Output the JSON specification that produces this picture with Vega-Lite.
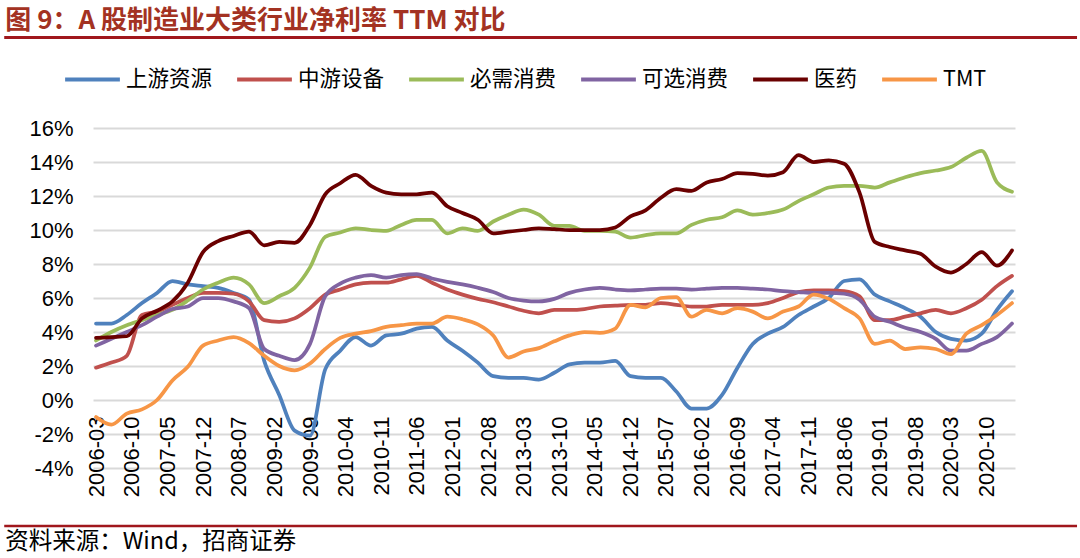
{
"$schema": "https://vega.github.io/schema/vega-lite/v6.json",
"width": 922, "height": 340,
"autosize": {"type": "none"},
"padding": {"left": 93, "top": 128, "right": 65, "bottom": 90},
"background": "white",
"config": {"view": {"stroke": null}, "font": "Liberation Sans"},
"resolve": {"axis": {"x": "independent", "y": "independent"}},
"data": {"values": [
{"d":"2006-03-01","s":"上游资源","v":4.5},{"d":"2006-06-01","s":"上游资源","v":4.5},{"d":"2006-09-01","s":"上游资源","v":5.0},{"d":"2006-12-01","s":"上游资源","v":5.7},
{"d":"2007-03-01","s":"上游资源","v":6.3},{"d":"2007-06-01","s":"上游资源","v":7.0},{"d":"2007-09-01","s":"上游资源","v":6.8},{"d":"2007-12-01","s":"上游资源","v":6.7},
{"d":"2008-03-01","s":"上游资源","v":6.6},{"d":"2008-06-01","s":"上游资源","v":6.3},{"d":"2008-09-01","s":"上游资源","v":5.9},{"d":"2008-12-01","s":"上游资源","v":2.3},
{"d":"2009-03-01","s":"上游资源","v":0.3},{"d":"2009-06-01","s":"上游资源","v":-1.8},{"d":"2009-09-01","s":"上游资源","v":-2.1},{"d":"2009-12-01","s":"上游资源","v":1.8},
{"d":"2010-03-01","s":"上游资源","v":2.9},{"d":"2010-06-01","s":"上游资源","v":3.7},{"d":"2010-09-01","s":"上游资源","v":3.2},{"d":"2010-12-01","s":"上游资源","v":3.8},
{"d":"2011-03-01","s":"上游资源","v":3.9},{"d":"2011-06-01","s":"上游资源","v":4.2},{"d":"2011-09-01","s":"上游资源","v":4.3},{"d":"2011-12-01","s":"上游资源","v":3.5},
{"d":"2012-03-01","s":"上游资源","v":2.9},{"d":"2012-06-01","s":"上游资源","v":2.2},{"d":"2012-09-01","s":"上游资源","v":1.4},{"d":"2012-12-01","s":"上游资源","v":1.3},
{"d":"2013-03-01","s":"上游资源","v":1.3},{"d":"2013-06-01","s":"上游资源","v":1.2},{"d":"2013-09-01","s":"上游资源","v":1.6},{"d":"2013-12-01","s":"上游资源","v":2.1},
{"d":"2014-03-01","s":"上游资源","v":2.2},{"d":"2014-06-01","s":"上游资源","v":2.2},{"d":"2014-09-01","s":"上游资源","v":2.3},{"d":"2014-12-01","s":"上游资源","v":1.4},
{"d":"2015-03-01","s":"上游资源","v":1.3},{"d":"2015-06-01","s":"上游资源","v":1.3},{"d":"2015-09-01","s":"上游资源","v":0.5},{"d":"2015-12-01","s":"上游资源","v":-0.5},
{"d":"2016-03-01","s":"上游资源","v":-0.5},{"d":"2016-06-01","s":"上游资源","v":0.3},{"d":"2016-09-01","s":"上游资源","v":1.9},{"d":"2016-12-01","s":"上游资源","v":3.3},
{"d":"2017-03-01","s":"上游资源","v":3.9},{"d":"2017-06-01","s":"上游资源","v":4.3},{"d":"2017-09-01","s":"上游资源","v":5.0},{"d":"2017-12-01","s":"上游资源","v":5.5},
{"d":"2018-03-01","s":"上游资源","v":6.0},{"d":"2018-06-01","s":"上游资源","v":7.0},{"d":"2018-09-01","s":"上游资源","v":7.1},{"d":"2018-12-01","s":"上游资源","v":6.2},
{"d":"2019-03-01","s":"上游资源","v":5.8},{"d":"2019-06-01","s":"上游资源","v":5.4},{"d":"2019-09-01","s":"上游资源","v":4.9},{"d":"2019-12-01","s":"上游资源","v":4.0},
{"d":"2020-03-01","s":"上游资源","v":3.6},{"d":"2020-06-01","s":"上游资源","v":3.5},{"d":"2020-09-01","s":"上游资源","v":3.9},{"d":"2020-12-01","s":"上游资源","v":5.3},
{"d":"2021-03-01","s":"上游资源","v":6.4},

{"d":"2006-03-01","s":"中游设备","v":1.9},{"d":"2006-06-01","s":"中游设备","v":2.2},{"d":"2006-09-01","s":"中游设备","v":2.6},{"d":"2006-12-01","s":"中游设备","v":5.0},
{"d":"2007-03-01","s":"中游设备","v":5.2},{"d":"2007-06-01","s":"中游设备","v":5.6},{"d":"2007-09-01","s":"中游设备","v":6.0},{"d":"2007-12-01","s":"中游设备","v":6.3},
{"d":"2008-03-01","s":"中游设备","v":6.3},{"d":"2008-06-01","s":"中游设备","v":6.25},{"d":"2008-09-01","s":"中游设备","v":5.8},{"d":"2008-12-01","s":"中游设备","v":4.7},
{"d":"2009-03-01","s":"中游设备","v":4.6},{"d":"2009-06-01","s":"中游设备","v":4.8},{"d":"2009-09-01","s":"中游设备","v":5.4},{"d":"2009-12-01","s":"中游设备","v":6.2},
{"d":"2010-03-01","s":"中游设备","v":6.5},{"d":"2010-06-01","s":"中游设备","v":6.8},{"d":"2010-09-01","s":"中游设备","v":6.9},{"d":"2010-12-01","s":"中游设备","v":6.9},
{"d":"2011-03-01","s":"中游设备","v":7.1},{"d":"2011-06-01","s":"中游设备","v":7.3},{"d":"2011-09-01","s":"中游设备","v":6.9},{"d":"2011-12-01","s":"中游设备","v":6.5},
{"d":"2012-03-01","s":"中游设备","v":6.2},{"d":"2012-06-01","s":"中游设备","v":5.95},{"d":"2012-09-01","s":"中游设备","v":5.75},{"d":"2012-12-01","s":"中游设备","v":5.5},
{"d":"2013-03-01","s":"中游设备","v":5.25},{"d":"2013-06-01","s":"中游设备","v":5.1},{"d":"2013-09-01","s":"中游设备","v":5.3},{"d":"2013-12-01","s":"中游设备","v":5.3},
{"d":"2014-03-01","s":"中游设备","v":5.35},{"d":"2014-06-01","s":"中游设备","v":5.5},{"d":"2014-09-01","s":"中游设备","v":5.55},{"d":"2014-12-01","s":"中游设备","v":5.6},
{"d":"2015-03-01","s":"中游设备","v":5.6},{"d":"2015-06-01","s":"中游设备","v":5.7},{"d":"2015-09-01","s":"中游设备","v":5.6},{"d":"2015-12-01","s":"中游设备","v":5.5},
{"d":"2016-03-01","s":"中游设备","v":5.5},{"d":"2016-06-01","s":"中游设备","v":5.6},{"d":"2016-09-01","s":"中游设备","v":5.6},{"d":"2016-12-01","s":"中游设备","v":5.6},
{"d":"2017-03-01","s":"中游设备","v":5.7},{"d":"2017-06-01","s":"中游设备","v":6.0},{"d":"2017-09-01","s":"中游设备","v":6.35},{"d":"2017-12-01","s":"中游设备","v":6.45},
{"d":"2018-03-01","s":"中游设备","v":6.45},{"d":"2018-06-01","s":"中游设备","v":6.4},{"d":"2018-09-01","s":"中游设备","v":6.1},{"d":"2018-12-01","s":"中游设备","v":4.7},
{"d":"2019-03-01","s":"中游设备","v":4.7},{"d":"2019-06-01","s":"中游设备","v":4.9},{"d":"2019-09-01","s":"中游设备","v":5.1},{"d":"2019-12-01","s":"中游设备","v":5.3},
{"d":"2020-03-01","s":"中游设备","v":5.1},{"d":"2020-06-01","s":"中游设备","v":5.4},{"d":"2020-09-01","s":"中游设备","v":5.9},{"d":"2020-12-01","s":"中游设备","v":6.7},
{"d":"2021-03-01","s":"中游设备","v":7.3},

{"d":"2006-03-01","s":"必需消费","v":3.5},{"d":"2006-06-01","s":"必需消费","v":4.0},{"d":"2006-09-01","s":"必需消费","v":4.4},{"d":"2006-12-01","s":"必需消费","v":4.7},
{"d":"2007-03-01","s":"必需消费","v":5.0},{"d":"2007-06-01","s":"必需消费","v":5.3},{"d":"2007-09-01","s":"必需消费","v":5.85},{"d":"2007-12-01","s":"必需消费","v":6.5},
{"d":"2008-03-01","s":"必需消费","v":6.9},{"d":"2008-06-01","s":"必需消费","v":7.2},{"d":"2008-09-01","s":"必需消费","v":6.8},{"d":"2008-12-01","s":"必需消费","v":5.7},
{"d":"2009-03-01","s":"必需消费","v":6.1},{"d":"2009-06-01","s":"必需消费","v":6.6},{"d":"2009-09-01","s":"必需消费","v":7.8},{"d":"2009-12-01","s":"必需消费","v":9.6},
{"d":"2010-03-01","s":"必需消费","v":9.85},{"d":"2010-06-01","s":"必需消费","v":10.1},{"d":"2010-09-01","s":"必需消费","v":10.0},{"d":"2010-12-01","s":"必需消费","v":9.95},
{"d":"2011-03-01","s":"必需消费","v":10.3},{"d":"2011-06-01","s":"必需消费","v":10.6},{"d":"2011-09-01","s":"必需消费","v":10.6},{"d":"2011-12-01","s":"必需消费","v":9.8},
{"d":"2012-03-01","s":"必需消费","v":10.1},{"d":"2012-06-01","s":"必需消费","v":9.95},{"d":"2012-09-01","s":"必需消费","v":10.5},{"d":"2012-12-01","s":"必需消费","v":10.9},
{"d":"2013-03-01","s":"必需消费","v":11.2},{"d":"2013-06-01","s":"必需消费","v":10.9},{"d":"2013-09-01","s":"必需消费","v":10.25},{"d":"2013-12-01","s":"必需消费","v":10.25},
{"d":"2014-03-01","s":"必需消费","v":9.95},{"d":"2014-06-01","s":"必需消费","v":9.95},{"d":"2014-09-01","s":"必需消费","v":9.9},{"d":"2014-12-01","s":"必需消费","v":9.55},
{"d":"2015-03-01","s":"必需消费","v":9.7},{"d":"2015-06-01","s":"必需消费","v":9.8},{"d":"2015-09-01","s":"必需消费","v":9.8},{"d":"2015-12-01","s":"必需消费","v":10.3},
{"d":"2016-03-01","s":"必需消费","v":10.6},{"d":"2016-06-01","s":"必需消费","v":10.75},{"d":"2016-09-01","s":"必需消费","v":11.15},{"d":"2016-12-01","s":"必需消费","v":10.9},
{"d":"2017-03-01","s":"必需消费","v":11.0},{"d":"2017-06-01","s":"必需消费","v":11.2},{"d":"2017-09-01","s":"必需消费","v":11.7},{"d":"2017-12-01","s":"必需消费","v":12.1},
{"d":"2018-03-01","s":"必需消费","v":12.5},{"d":"2018-06-01","s":"必需消费","v":12.6},{"d":"2018-09-01","s":"必需消费","v":12.6},{"d":"2018-12-01","s":"必需消费","v":12.5},
{"d":"2019-03-01","s":"必需消费","v":12.8},{"d":"2019-06-01","s":"必需消费","v":13.1},{"d":"2019-09-01","s":"必需消费","v":13.35},{"d":"2019-12-01","s":"必需消费","v":13.5},
{"d":"2020-03-01","s":"必需消费","v":13.7},{"d":"2020-06-01","s":"必需消费","v":14.25},{"d":"2020-09-01","s":"必需消费","v":14.65},{"d":"2020-12-01","s":"必需消费","v":12.8},
{"d":"2021-03-01","s":"必需消费","v":12.25},

{"d":"2006-03-01","s":"可选消费","v":3.2},{"d":"2006-06-01","s":"可选消费","v":3.6},{"d":"2006-09-01","s":"可选消费","v":4.0},{"d":"2006-12-01","s":"可选消费","v":4.4},
{"d":"2007-03-01","s":"可选消费","v":4.9},{"d":"2007-06-01","s":"可选消费","v":5.35},{"d":"2007-09-01","s":"可选消费","v":5.5},{"d":"2007-12-01","s":"可选消费","v":6.0},
{"d":"2008-03-01","s":"可选消费","v":6.0},{"d":"2008-06-01","s":"可选消费","v":5.8},{"d":"2008-09-01","s":"可选消费","v":5.4},{"d":"2008-12-01","s":"可选消费","v":3.0},
{"d":"2009-03-01","s":"可选消费","v":2.6},{"d":"2009-06-01","s":"可选消费","v":2.35},{"d":"2009-09-01","s":"可选消费","v":3.3},{"d":"2009-12-01","s":"可选消费","v":6.1},
{"d":"2010-03-01","s":"可选消费","v":6.85},{"d":"2010-06-01","s":"可选消费","v":7.2},{"d":"2010-09-01","s":"可选消费","v":7.35},{"d":"2010-12-01","s":"可选消费","v":7.2},
{"d":"2011-03-01","s":"可选消费","v":7.35},{"d":"2011-06-01","s":"可选消费","v":7.4},{"d":"2011-09-01","s":"可选消费","v":7.15},{"d":"2011-12-01","s":"可选消费","v":6.95},
{"d":"2012-03-01","s":"可选消费","v":6.8},{"d":"2012-06-01","s":"可选消费","v":6.6},{"d":"2012-09-01","s":"可选消费","v":6.35},{"d":"2012-12-01","s":"可选消费","v":6.0},
{"d":"2013-03-01","s":"可选消费","v":5.85},{"d":"2013-06-01","s":"可选消费","v":5.8},{"d":"2013-09-01","s":"可选消费","v":5.95},{"d":"2013-12-01","s":"可选消费","v":6.3},
{"d":"2014-03-01","s":"可选消费","v":6.5},{"d":"2014-06-01","s":"可选消费","v":6.6},{"d":"2014-09-01","s":"可选消费","v":6.5},{"d":"2014-12-01","s":"可选消费","v":6.45},
{"d":"2015-03-01","s":"可选消费","v":6.5},{"d":"2015-06-01","s":"可选消费","v":6.55},{"d":"2015-09-01","s":"可选消费","v":6.55},{"d":"2015-12-01","s":"可选消费","v":6.5},
{"d":"2016-03-01","s":"可选消费","v":6.55},{"d":"2016-06-01","s":"可选消费","v":6.6},{"d":"2016-09-01","s":"可选消费","v":6.6},{"d":"2016-12-01","s":"可选消费","v":6.55},
{"d":"2017-03-01","s":"可选消费","v":6.5},{"d":"2017-06-01","s":"可选消费","v":6.4},{"d":"2017-09-01","s":"可选消费","v":6.35},{"d":"2017-12-01","s":"可选消费","v":6.3},
{"d":"2018-03-01","s":"可选消费","v":6.3},{"d":"2018-06-01","s":"可选消费","v":6.25},{"d":"2018-09-01","s":"可选消费","v":5.9},{"d":"2018-12-01","s":"可选消费","v":4.9},
{"d":"2019-03-01","s":"可选消费","v":4.6},{"d":"2019-06-01","s":"可选消费","v":4.25},{"d":"2019-09-01","s":"可选消费","v":4.0},{"d":"2019-12-01","s":"可选消费","v":3.6},
{"d":"2020-03-01","s":"可选消费","v":2.9},{"d":"2020-06-01","s":"可选消费","v":2.9},{"d":"2020-09-01","s":"可选消费","v":3.3},{"d":"2020-12-01","s":"可选消费","v":3.7},
{"d":"2021-03-01","s":"可选消费","v":4.5},

{"d":"2006-03-01","s":"医药","v":3.65},{"d":"2006-06-01","s":"医药","v":3.7},{"d":"2006-09-01","s":"医药","v":3.75},{"d":"2006-12-01","s":"医药","v":4.8},
{"d":"2007-03-01","s":"医药","v":5.25},{"d":"2007-06-01","s":"医药","v":5.8},{"d":"2007-09-01","s":"医药","v":6.9},{"d":"2007-12-01","s":"医药","v":8.7},
{"d":"2008-03-01","s":"医药","v":9.35},{"d":"2008-06-01","s":"医药","v":9.65},{"d":"2008-09-01","s":"医药","v":9.9},{"d":"2008-12-01","s":"医药","v":9.1},
{"d":"2009-03-01","s":"医药","v":9.3},{"d":"2009-06-01","s":"医药","v":9.25},{"d":"2009-09-01","s":"医药","v":10.3},{"d":"2009-12-01","s":"医药","v":12.1},
{"d":"2010-03-01","s":"医药","v":12.75},{"d":"2010-06-01","s":"医药","v":13.25},{"d":"2010-09-01","s":"医药","v":12.6},{"d":"2010-12-01","s":"医药","v":12.2},
{"d":"2011-03-01","s":"医药","v":12.1},{"d":"2011-06-01","s":"医药","v":12.1},{"d":"2011-09-01","s":"医药","v":12.2},{"d":"2011-12-01","s":"医药","v":11.4},
{"d":"2012-03-01","s":"医药","v":11.0},{"d":"2012-06-01","s":"医药","v":10.6},{"d":"2012-09-01","s":"医药","v":9.8},{"d":"2012-12-01","s":"医药","v":9.9},
{"d":"2013-03-01","s":"医药","v":10.0},{"d":"2013-06-01","s":"医药","v":10.1},{"d":"2013-09-01","s":"医药","v":10.05},{"d":"2013-12-01","s":"医药","v":10.0},
{"d":"2014-03-01","s":"医药","v":10.0},{"d":"2014-06-01","s":"医药","v":10.0},{"d":"2014-09-01","s":"医药","v":10.15},{"d":"2014-12-01","s":"医药","v":10.8},
{"d":"2015-03-01","s":"医药","v":11.15},{"d":"2015-06-01","s":"医药","v":11.9},{"d":"2015-09-01","s":"医药","v":12.4},{"d":"2015-12-01","s":"医药","v":12.3},
{"d":"2016-03-01","s":"医药","v":12.8},{"d":"2016-06-01","s":"医药","v":13.0},{"d":"2016-09-01","s":"医药","v":13.35},{"d":"2016-12-01","s":"医药","v":13.3},
{"d":"2017-03-01","s":"医药","v":13.2},{"d":"2017-06-01","s":"医药","v":13.4},{"d":"2017-09-01","s":"医药","v":14.4},{"d":"2017-12-01","s":"医药","v":14.0},
{"d":"2018-03-01","s":"医药","v":14.1},{"d":"2018-06-01","s":"医药","v":13.9},{"d":"2018-09-01","s":"医药","v":12.2},{"d":"2018-12-01","s":"医药","v":9.3},
{"d":"2019-03-01","s":"医药","v":9.0},{"d":"2019-06-01","s":"医药","v":8.8},{"d":"2019-09-01","s":"医药","v":8.6},{"d":"2019-12-01","s":"医药","v":7.85},
{"d":"2020-03-01","s":"医药","v":7.5},{"d":"2020-06-01","s":"医药","v":8.0},{"d":"2020-09-01","s":"医药","v":8.7},{"d":"2020-12-01","s":"医药","v":7.9},
{"d":"2021-03-01","s":"医药","v":8.8},

{"d":"2006-03-01","s":"TMT","v":-1.0},{"d":"2006-06-01","s":"TMT","v":-1.45},{"d":"2006-09-01","s":"TMT","v":-0.8},{"d":"2006-12-01","s":"TMT","v":-0.55},
{"d":"2007-03-01","s":"TMT","v":0.0},{"d":"2007-06-01","s":"TMT","v":1.15},{"d":"2007-09-01","s":"TMT","v":1.95},{"d":"2007-12-01","s":"TMT","v":3.2},
{"d":"2008-03-01","s":"TMT","v":3.5},{"d":"2008-06-01","s":"TMT","v":3.7},{"d":"2008-09-01","s":"TMT","v":3.35},{"d":"2008-12-01","s":"TMT","v":2.6},
{"d":"2009-03-01","s":"TMT","v":2.0},{"d":"2009-06-01","s":"TMT","v":1.75},{"d":"2009-09-01","s":"TMT","v":2.15},{"d":"2009-12-01","s":"TMT","v":3.0},
{"d":"2010-03-01","s":"TMT","v":3.65},{"d":"2010-06-01","s":"TMT","v":3.9},{"d":"2010-09-01","s":"TMT","v":4.05},{"d":"2010-12-01","s":"TMT","v":4.3},
{"d":"2011-03-01","s":"TMT","v":4.4},{"d":"2011-06-01","s":"TMT","v":4.5},{"d":"2011-09-01","s":"TMT","v":4.5},{"d":"2011-12-01","s":"TMT","v":4.9},
{"d":"2012-03-01","s":"TMT","v":4.75},{"d":"2012-06-01","s":"TMT","v":4.45},{"d":"2012-09-01","s":"TMT","v":3.8},{"d":"2012-12-01","s":"TMT","v":2.5},
{"d":"2013-03-01","s":"TMT","v":2.85},{"d":"2013-06-01","s":"TMT","v":3.05},{"d":"2013-09-01","s":"TMT","v":3.45},{"d":"2013-12-01","s":"TMT","v":3.8},
{"d":"2014-03-01","s":"TMT","v":4.0},{"d":"2014-06-01","s":"TMT","v":3.95},{"d":"2014-09-01","s":"TMT","v":4.2},{"d":"2014-12-01","s":"TMT","v":5.6},
{"d":"2015-03-01","s":"TMT","v":5.45},{"d":"2015-06-01","s":"TMT","v":6.0},{"d":"2015-09-01","s":"TMT","v":6.05},{"d":"2015-12-01","s":"TMT","v":4.9},
{"d":"2016-03-01","s":"TMT","v":5.3},{"d":"2016-06-01","s":"TMT","v":5.1},{"d":"2016-09-01","s":"TMT","v":5.4},{"d":"2016-12-01","s":"TMT","v":5.2},
{"d":"2017-03-01","s":"TMT","v":4.8},{"d":"2017-06-01","s":"TMT","v":5.2},{"d":"2017-09-01","s":"TMT","v":5.5},{"d":"2017-12-01","s":"TMT","v":6.2},
{"d":"2018-03-01","s":"TMT","v":5.95},{"d":"2018-06-01","s":"TMT","v":5.4},{"d":"2018-09-01","s":"TMT","v":4.8},{"d":"2018-12-01","s":"TMT","v":3.3},
{"d":"2019-03-01","s":"TMT","v":3.5},{"d":"2019-06-01","s":"TMT","v":3.0},{"d":"2019-09-01","s":"TMT","v":3.1},{"d":"2019-12-01","s":"TMT","v":3.0},
{"d":"2020-03-01","s":"TMT","v":2.7},{"d":"2020-06-01","s":"TMT","v":3.9},{"d":"2020-09-01","s":"TMT","v":4.4},{"d":"2020-12-01","s":"TMT","v":5.0},
{"d":"2021-03-01","s":"TMT","v":5.7}
]},
"layer": [
{
"mark": {"type": "line", "interpolate": "monotone", "strokeWidth": 3.75, "strokeCap": "round", "strokeJoin": "round"},
"encoding": {
"x": {"field": "d", "type": "temporal",
"scale": {"domain": [{"year": 2006, "month": 2, "date": 11}, {"year": 2021, "month": 3, "date": 19}]},
"axis": {"title": null, "grid": false, "domain": false, "ticks": false, "offset": -67, "labelPadding": 15,
"labelAngle": 270, "labelFontSize": 22, "labelFont": "Liberation Sans", "labelColor": "#000000", "labelOverlap": false, "labelBound": false, "labelFlush": false,
"format": "%Y-%m",
"values": [{"year":2006,"month":3,"date":1},{"year":2006,"month":10,"date":1},{"year":2007,"month":5,"date":1},{"year":2007,"month":12,"date":1},{"year":2008,"month":7,"date":1},{"year":2009,"month":2,"date":1},{"year":2009,"month":9,"date":1},{"year":2010,"month":4,"date":1},{"year":2010,"month":11,"date":1},{"year":2011,"month":6,"date":1},{"year":2012,"month":1,"date":1},{"year":2012,"month":8,"date":1},{"year":2013,"month":3,"date":1},{"year":2013,"month":10,"date":1},{"year":2014,"month":5,"date":1},{"year":2014,"month":12,"date":1},{"year":2015,"month":7,"date":1},{"year":2016,"month":2,"date":1},{"year":2016,"month":9,"date":1},{"year":2017,"month":4,"date":1},{"year":2017,"month":11,"date":1},{"year":2018,"month":6,"date":1},{"year":2019,"month":1,"date":1},{"year":2019,"month":8,"date":1},{"year":2020,"month":3,"date":1},{"year":2020,"month":10,"date":1}]}},
"y": {"field": "v", "type": "quantitative",
"scale": {"domain": [-4, 16], "nice": false, "zero": false},
"axis": {"title": null, "values": [-4,-2,0,2,4,6,8,10,12,14,16], "labelExpr": "datum.value + '%'",
"grid": true, "gridColor": "#d9d9d9", "gridWidth": 2, "domain": false, "ticks": false, "labelOverlap": false, "labelBound": false, "labelFlush": false,
"labelPadding": 20, "labelFontSize": 22, "labelFont": "Liberation Sans", "labelColor": "#000000"}},
"color": {"field": "s", "type": "nominal",
"scale": {"domain": ["上游资源","中游设备","必需消费","可选消费","医药","TMT"],
"range": ["#4f81bd","#c0504d","#9bbb59","#8064a2","#6a0000","#f79646"]},
"legend": {"title": null, "orient": "none", "legendX": -30, "legendY": -78, "direction": "horizontal", "columns": 6,
"symbolType": "stroke", "symbolSize": 3000, "symbolStrokeWidth": 4, "labelOffset": 4, "columnPadding": 16,
"labelFontSize": 21.5, "labelFont": "Noto Sans CJK SC", "labelColor": "#000000", "padding": 0}}
}
},
{
"data": {"values": [{"k": "title-line"}]},
"mark": {"type": "rule", "color": "#a0171c", "strokeWidth": 3},
"encoding": {
"x": {"datum": {"year": 2004, "month": 8, "date": 29}, "type": "temporal", "axis": null, "scale": {"domain": [{"year": 2006, "month": 2, "date": 11}, {"year": 2021, "month": 3, "date": 19}]}},
"x2": {"datum": {"year": 2022, "month": 3, "date": 25}},
"y": {"datum": 21.32, "type": "quantitative", "axis": null, "scale": {"domain": [-4, 16], "nice": false, "zero": false}}
}
},
{
"data": {"values": [{"k": "source-line"}]},
"mark": {"type": "rule", "color": "#a0171c", "strokeWidth": 2.5},
"encoding": {
"x": {"datum": {"year": 2004, "month": 8, "date": 29}, "type": "temporal", "axis": null, "scale": {"domain": [{"year": 2006, "month": 2, "date": 11}, {"year": 2021, "month": 3, "date": 19}]}},
"x2": {"datum": {"year": 2022, "month": 3, "date": 25}},
"y": {"datum": -7.41, "type": "quantitative", "axis": null, "scale": {"domain": [-4, 16], "nice": false, "zero": false}}
}
},
{
"data": {"values": [{"t": "图 9：A 股制造业大类行业净利率 TTM 对比"}]},
"mark": {"type": "text", "align": "left", "baseline": "middle", "fontSize": 26, "fontWeight": "bold", "font": "Noto Sans CJK SC", "color": "#a33222"},
"encoding": {
"text": {"field": "t"},
"x": {"datum": {"year": 2004, "month": 9, "date": 4}, "type": "temporal", "axis": null, "scale": {"domain": [{"year": 2006, "month": 2, "date": 11}, {"year": 2021, "month": 3, "date": 19}]}},
"y": {"datum": 22.3, "type": "quantitative", "axis": null, "scale": {"domain": [-4, 16], "nice": false, "zero": false}}
}
},
{
"data": {"values": [{"t": "资料来源：Wind，招商证券"}]},
"mark": {"type": "text", "align": "left", "baseline": "middle", "fontSize": 23.5, "font": "Noto Sans CJK SC", "color": "#000000"},
"encoding": {
"text": {"field": "t"},
"x": {"datum": {"year": 2004, "month": 9, "date": 4}, "type": "temporal", "axis": null, "scale": {"domain": [{"year": 2006, "month": 2, "date": 11}, {"year": 2021, "month": 3, "date": 19}]}},
"y": {"datum": -8.38, "type": "quantitative", "axis": null, "scale": {"domain": [-4, 16], "nice": false, "zero": false}}
}
}
]
}
